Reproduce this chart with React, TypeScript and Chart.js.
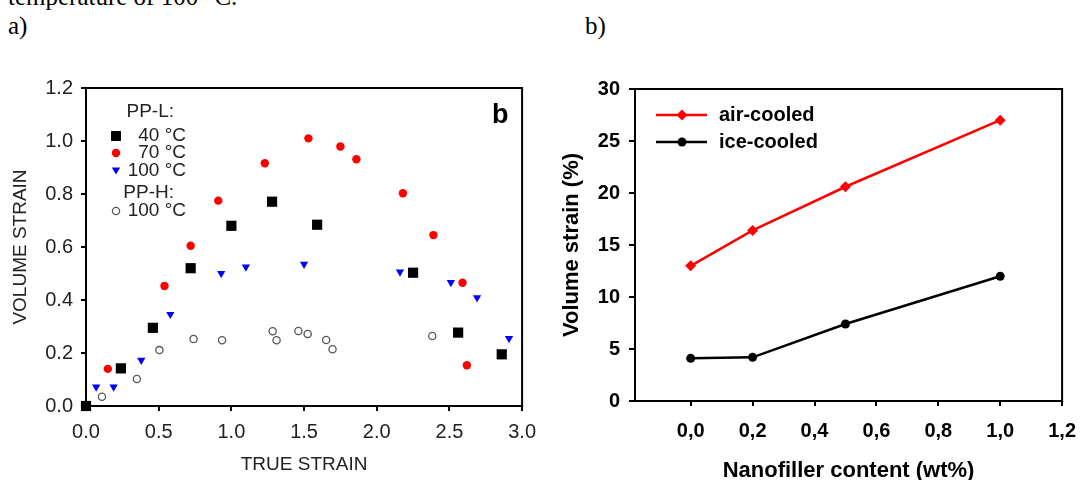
import React, { useEffect, useRef } from 'react';
import { Chart, registerables } from 'chart.js';

Chart.register(...registerables);

const SANS = "'Liberation Sans', Arial, Helvetica, sans-serif";
const SERIF = "'Liberation Serif', 'Times New Roman', serif";

// ---------- Panel a) : volume strain vs true strain ----------
const ppl40X = [0, 0.24, 0.46, 0.72, 1.0, 1.28, 1.59, 2.25, 2.56, 2.86];
const ppl40Y = [0, 0.142, 0.295, 0.52, 0.68, 0.771, 0.684, 0.503, 0.277, 0.195];

const ppl70X = [0.15, 0.54, 0.72, 0.91, 1.23, 1.53, 1.75, 1.86, 2.18, 2.39, 2.59, 2.62];
const ppl70Y = [0.14, 0.453, 0.605, 0.775, 0.916, 1.01, 0.979, 0.931, 0.803, 0.645, 0.465, 0.154];

const ppl100X = [0.07, 0.19, 0.38, 0.58, 0.93, 1.1, 1.5, 2.16, 2.51, 2.69, 2.91];
const ppl100Y = [0.072, 0.072, 0.173, 0.346, 0.5, 0.525, 0.535, 0.506, 0.466, 0.409, 0.255];

const pph100X = [0.11, 0.35, 0.505, 0.74, 0.936, 1.284, 1.311, 1.461, 1.525, 1.652, 1.696, 2.382];
const pph100Y = [0.035, 0.102, 0.211, 0.253, 0.248, 0.282, 0.248, 0.283, 0.272, 0.249, 0.214, 0.264];

// ---------- Panel b) : volume strain vs nanofiller content ----------
const nanofillerContent = [0, 0.2, 0.5, 1.0];
const airCooled = [13.0, 16.4, 20.6, 27.0];
const iceCooled = [4.1, 4.2, 7.4, 12.0];

const zip = (xs: number[], ys: number[]) => xs.map((x, i) => ({ x, y: ys[i] }));

const boxPlugin = {
  id: 'plotBox',
  beforeDatasetsDraw(chart: any) {
    const { ctx, chartArea: a } = chart;
    ctx.save();
    ctx.strokeStyle = '#000';
    ctx.lineWidth = 2;
    ctx.strokeRect(a.left, a.top, a.right - a.left, a.bottom - a.top);
    ctx.restore();
  },
};

const legendA = {
  id: 'legendA',
  afterDraw(chart: any) {
    const ctx = chart.ctx;
    ctx.save();
    ctx.fillStyle = '#222';
    ctx.font = `19px ${SANS}`;
    ctx.textBaseline = 'middle';
    ctx.textAlign = 'right';
    ctx.fillText('PP-L:', 174, 112);
    ctx.fillText('40 °C', 186, 136);
    ctx.fillText('70 °C', 186, 153);
    ctx.fillText('100 °C', 186, 171);
    ctx.fillText('PP-H:', 174, 193);
    ctx.fillText('100 °C', 186, 211);
    // markers
    ctx.fillStyle = '#000';
    ctx.fillRect(111, 131, 10, 10);
    ctx.fillStyle = '#ff0000';
    ctx.beginPath();
    ctx.arc(116, 153, 4.2, 0, Math.PI * 2);
    ctx.fill();
    ctx.fillStyle = '#0000ff';
    ctx.beginPath();
    ctx.moveTo(111.8, 167.5);
    ctx.lineTo(120.2, 167.5);
    ctx.lineTo(116, 174.5);
    ctx.closePath();
    ctx.fill();
    ctx.strokeStyle = '#555';
    ctx.lineWidth = 1.3;
    ctx.beginPath();
    ctx.arc(116, 211, 3.6, 0, Math.PI * 2);
    ctx.stroke();
    // panel letter
    ctx.fillStyle = '#000';
    ctx.textAlign = 'left';
    ctx.textBaseline = 'alphabetic';
    ctx.font = `bold 27px ${SANS}`;
    ctx.fillText('b', 492, 123);
    ctx.restore();
  },
};

const legendB = {
  id: 'legendB',
  afterDraw(chart: any) {
    const ctx = chart.ctx;
    ctx.save();
    // air-cooled
    ctx.strokeStyle = '#ff0000';
    ctx.lineWidth = 2.5;
    ctx.beginPath();
    ctx.moveTo(111, 115);
    ctx.lineTo(162, 115);
    ctx.stroke();
    ctx.fillStyle = '#ff0000';
    ctx.beginPath();
    ctx.moveTo(137, 109.5);
    ctx.lineTo(142.5, 115);
    ctx.lineTo(137, 120.5);
    ctx.lineTo(131.5, 115);
    ctx.closePath();
    ctx.fill();
    // ice-cooled
    ctx.strokeStyle = '#000';
    ctx.beginPath();
    ctx.moveTo(111, 142);
    ctx.lineTo(162, 142);
    ctx.stroke();
    ctx.fillStyle = '#000';
    ctx.beginPath();
    ctx.arc(137, 142, 4.5, 0, Math.PI * 2);
    ctx.fill();
    ctx.font = `bold 20px ${SANS}`;
    ctx.textBaseline = 'middle';
    ctx.textAlign = 'left';
    ctx.fillText('air-cooled', 174, 115);
    ctx.fillText('ice-cooled', 174, 142);
    ctx.restore();
  },
};

const tickGrid = (len: number) => ({
  display: true,
  drawOnChartArea: false,
  drawTicks: true,
  tickLength: len,
  color: '#000',
  lineWidth: 2,
});

export default function App() {
  const refA = useRef<HTMLCanvasElement | null>(null);
  const refB = useRef<HTMLCanvasElement | null>(null);

  useEffect(() => {
    const tickFontA = { family: SANS, size: 20 };
    const chartA = new Chart(refA.current as HTMLCanvasElement, {
      type: 'scatter',
      data: {
        datasets: [
          { label: 'PP-L 40 °C', data: zip(ppl40X, ppl40Y), pointStyle: 'rect', pointRadius: 7.2, backgroundColor: '#000', borderColor: '#000', borderWidth: 0, clip: false },
          { label: 'PP-L 70 °C', data: zip(ppl70X, ppl70Y), pointStyle: 'circle', pointRadius: 4.2, backgroundColor: '#ff0000', borderColor: '#ff0000', borderWidth: 0, clip: false },
          { label: 'PP-L 100 °C', data: zip(ppl100X, ppl100Y), pointStyle: 'triangle', pointRotation: 180, pointRadius: 4.8, backgroundColor: '#0000ff', borderColor: '#0000ff', borderWidth: 0, clip: false },
          { label: 'PP-H 100 °C', data: zip(pph100X, pph100Y), pointStyle: 'circle', pointRadius: 3.6, backgroundColor: 'rgba(0,0,0,0)', borderColor: '#555', borderWidth: 1.3, clip: false },
        ] as any,
      },
      options: {
        animation: false,
        responsive: false,
        events: [],
        layout: { padding: { left: 0, top: 88, right: 19, bottom: 0 } },
        plugins: { legend: { display: false }, tooltip: { enabled: false } },
        scales: {
          x: {
            type: 'linear',
            min: 0,
            max: 3,
            afterFit: (s: any) => { s.height = 74; },
            ticks: { stepSize: 0.5, autoSkip: false, maxRotation: 0, padding: 9, color: '#222', font: tickFontA, callback: (v: any) => Number(v).toFixed(1) },
            grid: tickGrid(5),
            border: { display: false },
            title: { display: true, text: 'TRUE STRAIN', color: '#222', font: { family: SANS, size: 19 }, padding: { top: 0, bottom: 4 } },
          },
          y: {
            type: 'linear',
            min: 0,
            max: 1.2,
            afterFit: (s: any) => { s.width = 86; },
            ticks: { stepSize: 0.2, autoSkip: false, padding: 8, color: '#222', font: tickFontA, callback: (v: any) => Number(v).toFixed(1) },
            grid: tickGrid(5),
            border: { display: false },
            title: { display: true, text: 'VOLUME STRAIN', color: '#222', font: { family: SANS, size: 19 }, padding: { top: 9, bottom: 0 } },
          },
        },
      } as any,
      plugins: [boxPlugin, legendA],
    });

    const tickFontB = { family: SANS, size: 20, weight: 'bold' };
    const chartB = new Chart(refB.current as HTMLCanvasElement, {
      type: 'line',
      data: {
        datasets: [
          { label: 'air-cooled', data: zip(nanofillerContent, airCooled), borderColor: '#ff0000', backgroundColor: '#ff0000', borderWidth: 2.5, pointStyle: 'rectRot', pointRadius: 5.5, pointBorderWidth: 0, tension: 0, clip: false },
          { label: 'ice-cooled', data: zip(nanofillerContent, iceCooled), borderColor: '#000', backgroundColor: '#000', borderWidth: 2.5, pointStyle: 'circle', pointRadius: 4.5, pointBorderWidth: 0, tension: 0, clip: false },
        ] as any,
      },
      options: {
        animation: false,
        responsive: false,
        events: [],
        layout: { padding: { left: 0, top: 89, right: 16, bottom: 0 } },
        plugins: { legend: { display: false }, tooltip: { enabled: false } },
        scales: {
          x: {
            type: 'linear',
            min: -0.18,
            max: 1.2,
            afterFit: (s: any) => { s.height = 79; },
            ticks: { stepSize: 0.2, includeBounds: false, autoSkip: false, maxRotation: 0, padding: 13, color: '#000', font: tickFontB, callback: (v: any) => Number(v).toFixed(1).replace('.', ',') },
            grid: tickGrid(5),
            border: { display: false },
            title: { display: true, text: 'Nanofiller content (wt%)', color: '#000', font: { family: SANS, size: 22, weight: 'bold' }, padding: { top: 0, bottom: -4 } },
          },
          y: {
            type: 'linear',
            min: 0,
            max: 30,
            afterFit: (s: any) => { s.width = 90; },
            ticks: { stepSize: 5, autoSkip: false, padding: 9, color: '#000', font: tickFontB },
            grid: tickGrid(6),
            border: { display: false },
            title: { display: true, text: 'Volume strain (%)', color: '#000', font: { family: SANS, size: 22, weight: 'bold' }, padding: { top: 14, bottom: 0 } },
          },
        },
      } as any,
      plugins: [boxPlugin, legendB],
    });

    return () => {
      chartA.destroy();
      chartB.destroy();
    };
  }, []);

  const serifText: React.CSSProperties = {
    position: 'absolute',
    fontFamily: SERIF,
    fontSize: 25,
    lineHeight: '25px',
    whiteSpace: 'nowrap',
    color: '#000',
  };

  return (
    <div style={{ position: 'absolute', left: 0, top: 0, width: 1089, height: 480, overflow: 'hidden', background: '#fff' }}>
      <div style={{ ...serifText, left: 8, top: -16 }}>temperature of 100 °C.</div>
      <div style={{ ...serifText, left: 8, top: 13 }}>a)</div>
      <div style={{ ...serifText, left: 585, top: 13 }}>b)</div>
      <canvas ref={refA} width={545} height={480} style={{ position: 'absolute', left: 0, top: 0 }} />
      <canvas ref={refB} width={544} height={480} style={{ position: 'absolute', left: 545, top: 0 }} />
    </div>
  );
}
